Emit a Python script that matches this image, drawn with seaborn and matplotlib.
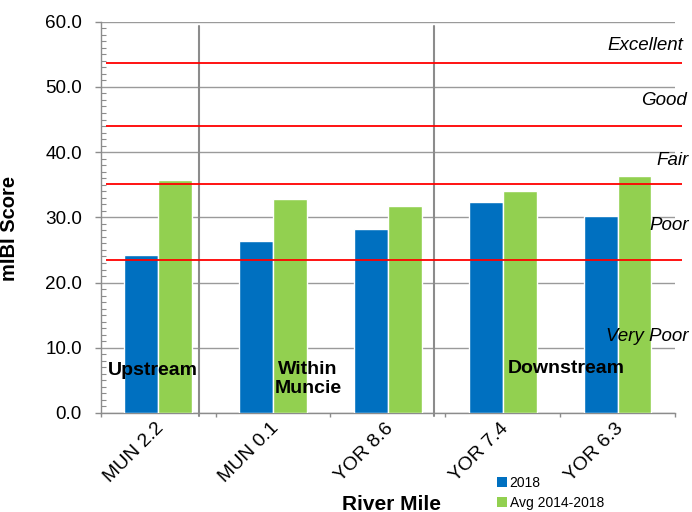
import numpy as np
import pandas as pd
import matplotlib
matplotlib.use("Agg")
import matplotlib.pyplot as plt
from matplotlib.patches import Patch
from matplotlib.ticker import MultipleLocator, FixedLocator, FormatStrFormatter
import matplotlib.transforms as mtransforms
import seaborn as sns

# --- data -------------------------------------------------------------
sites = ["MUN 2.2", "MUN 0.1", "YOR 8.6", "YOR 7.4", "YOR 6.3"]
score_2018 = [24.2, 26.3, 28.2, 32.3, 30.2]
score_avg = [35.7, 32.8, 31.7, 34.0, 36.4]
series_names = ["2018", "Avg 2014-2018"]

# narrative condition class boundaries (mIBI score)
class_bounds = [23.5, 35.1, 44.0, 53.7]
class_names = ["Very Poor", "Poor", "Fair", "Good", "Excellent"]
class_label_y = [11.0, 28.0, 38.0, 47.2, 55.6]
class_label_x = [1.0244, 1.0244, 1.0244, 1.021, 1.014]

# reach groupings along the river
reach_names = ["Upstream", "Within\nMuncie", "Downstream"]
reach_breaks = [0.36, 2.40]
reach_x = [-0.045, 1.304, 3.55]
reach_y = [5.8, 3.1, 6.1]

# --- styling ------------------------------------------------------------
sns.set_theme(style="white")
plt.rcParams["font.family"] = ["Liberation Sans", "DejaVu Sans"]
plt.rcParams["text.color"] = "black"
plt.rcParams["axes.labelcolor"] = "black"
plt.rcParams["xtick.color"] = "black"
plt.rcParams["ytick.color"] = "black"

blue = "#0070C0"
green = "#92D050"
grid_gray = "#9a9a9a"
axis_gray = "#8c8c8c"

df = pd.DataFrame({
    "site": sites * 2,
    "score": score_2018 + score_avg,
    "period": [series_names[0]] * len(sites) + [series_names[1]] * len(sites),
})

fig = plt.figure(figsize=(6.92, 5.12), dpi=100)
ax = fig.add_axes([0.1455, 0.1934, 0.8299, 0.7642])

sns.barplot(data=df, x="site", y="score", hue="period", order=sites,
            hue_order=series_names, palette=[blue, green], width=0.59,
            saturation=1, dodge=True, legend=False, ax=ax, zorder=3,
            errorbar=None)

ax.set_xlim(-0.5, len(sites) - 0.5)
ax.set_ylim(0, 60)

# horizontal gridlines
ax.yaxis.set_major_locator(MultipleLocator(10))
ax.yaxis.set_minor_locator(MultipleLocator(1))
ax.yaxis.set_major_formatter(FormatStrFormatter("%.1f"))
ax.grid(axis="y", which="major", color=grid_gray, lw=1.0, zorder=0)
ax.set_axisbelow(True)

for s in ["top", "right"]:
    ax.spines[s].set_visible(False)
for s in ["left", "bottom"]:
    ax.spines[s].set_color(axis_gray)
    ax.spines[s].set_linewidth(1.0)

ax.tick_params(axis="y", which="major", direction="out", length=4.1,
               width=1.0, color=axis_gray, labelsize=13.6, pad=9.5,
               labelcolor="black", left=True)
ax.tick_params(axis="y", which="minor", direction="in", length=3.8,
               width=0.8, color=axis_gray, left=True)

# category boundaries carry the tick marks; labels sit at the centres
ax.xaxis.set_minor_locator(FixedLocator(np.arange(-0.5, len(sites), 1.0)))
ax.tick_params(axis="x", which="minor", direction="out", length=3,
               width=1.0, color=axis_gray, bottom=True)
ax.tick_params(axis="x", which="major", length=0, pad=5)
ax.set_xticks(range(len(sites)))
ax.set_xticklabels(sites, rotation=45, ha="right", rotation_mode="anchor",
                   fontsize=14, color="black")
shift = mtransforms.ScaledTranslation(-3 / 100, 0, fig.dpi_scale_trans)
for lbl in ax.get_xticklabels():
    lbl.set_transform(lbl.get_transform() + shift)

ax.set_xlabel("")
ax.set_ylabel("mIBI Score", fontsize=14.5, fontweight="bold", color="black")
ax.yaxis.set_label_coords(-0.143, 0.472)
fig.text(391.5 / 692, 1 - 504 / 512, "River Mile", fontsize=15,
         fontweight="bold", ha="center", va="center", color="black")

# reach separators
for xb in reach_breaks:
    ax.plot([xb, xb], [-0.5, 59.4], color=axis_gray, lw=1.5, zorder=2,
            clip_on=False)

# condition class thresholds
ax.hlines(class_bounds, 0.009, 1.012, transform=ax.get_yaxis_transform(),
          colors="#FF0000", lw=1.3, zorder=4, clip_on=False)
for name, x, y in zip(class_names, class_label_x, class_label_y):
    ax.text(x, y, name, transform=ax.get_yaxis_transform(), ha="right",
            va="baseline", fontsize=13.5, fontstyle="italic", zorder=5,
            clip_on=False, color="black")

# reach labels
for name, x, y in zip(reach_names, reach_x, reach_y):
    ax.text(x, y, name, ha="center", va="baseline", fontsize=14,
            fontweight="bold", linespacing=1.1, zorder=6, color="black")

# legend
handles = [Patch(facecolor=blue, edgecolor="none"),
           Patch(facecolor=green, edgecolor="none")]
fig.legend(handles, series_names, loc="center left",
           bbox_to_anchor=(497 / 692, 1 - 493 / 512), frameon=False,
           fontsize=10, handlelength=0.75, handleheight=0.75,
           handletextpad=0.15, labelspacing=0.4, borderpad=0,
           borderaxespad=0)

fig.savefig("out.png", dpi=100)
